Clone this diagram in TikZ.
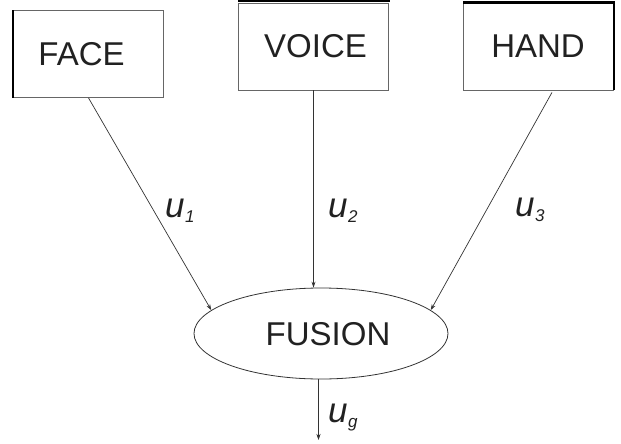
\documentclass[tikz,border=0pt]{standalone}
\usepackage{fontspec}
\setmainfont{Liberation Sans}
\usetikzlibrary{shapes.geometric,arrows.meta,calc}
\newcommand\usub[1]{\textit{u}\kern0.5pt\raisebox{-5pt}{\fontsize{17}{17}\selectfont\textit{#1}}}
\begin{document}
\begin{tikzpicture}[x=1pt,y=-1pt,
  box/.style={draw=black!60, line width=0.8pt, minimum width=150pt, minimum height=87pt, inner sep=0pt},
  boxtext/.style={font=\fontsize{33}{33}\selectfont, text=black!87, inner sep=0pt},
  heavy/.style={draw=black, line width=2.2pt},
  fusionshape/.style={ellipse, draw=black!80, line width=0.8pt, minimum width=254pt, minimum height=91pt, inner sep=0pt},
  conn/.style={draw=black!80, line width=0.7pt, -{Stealth[length=6pt,width=4pt]}},
  ulbl/.style={font=\fontsize{35}{35}\selectfont, text=black!87, inner sep=0pt, anchor=base west}]
\useasboundingbox (0,0) rectangle (621,444);
% boxes
\node[box] (face) at (88.5,54) {};
\node[box] (voice) at (313.5,46.5) {};
\node[box] (hand) at (538.5,46.5) {};
\node[boxtext] (facetxt) at (81.5,54) {FACE};
\node[boxtext] (voicetxt) at (315.5,46) {VOICE};
\node[boxtext] (handtxt) at (538,46) {HAND};
% heavy edges
\draw[heavy] (face.north west) -- (face.south west);
\draw[heavy] ($(voice.north west)+(0,-2)$) -- ($(voice.north east)+(1,-2)$);
\draw[heavy] (hand.north west) -- (hand.north east) -- (hand.south east);
% fusion
\node[fusionshape] (fusion) at (321,333.5) {};
\node[boxtext] (fusiontxt) at (328,334.5) {FUSION};
\coordinate (out) at (318.5,440);
% connectors
\draw[conn] (face.south) -- (fusion.168.8);
\draw[conn] (voice.south) -- (voice.south |- fusion.north);
\draw[conn] ($(hand.south)+(13.5,2)$) -- (fusion.12);
\draw[conn] ($(fusion.south)+(-2.5,0)$) -- (out);
% labels
\node[ulbl] (u1) at (165,217) {\usub{1}};
\node[ulbl] (u2) at (328,217) {\usub{2}};
\node[ulbl] (u3) at (515,216) {\usub{3}};
\node[ulbl] (ug) at (328,422) {\usub{g}};
\end{tikzpicture}
\end{document}
